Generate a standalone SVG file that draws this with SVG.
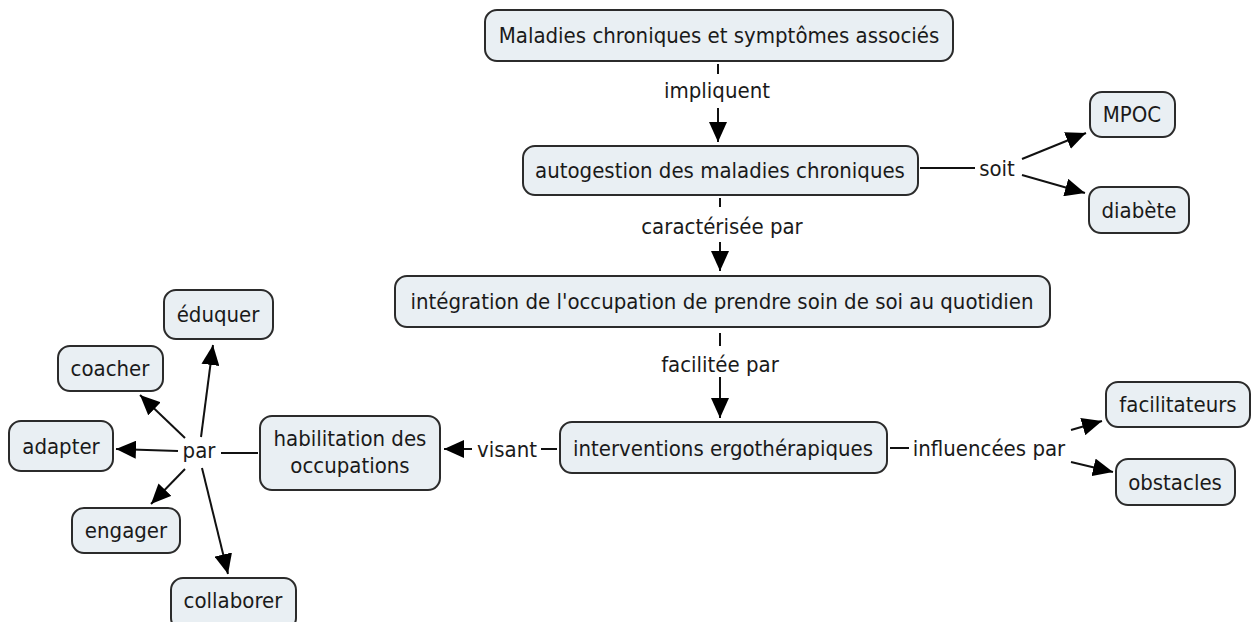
<svg xmlns="http://www.w3.org/2000/svg" width="1253" height="622" viewBox="0 0 1253 622">
<defs>
<style>
.n rect{fill:#e9eff3;stroke:#2b2b2b;stroke-width:2}
text{font-family:"DejaVu Sans Condensed","DejaVu Sans",Verdana,sans-serif;font-stretch:condensed;font-size:22px;fill:#1a1a1a;text-anchor:middle;dominant-baseline:central}
.c line{stroke:#111;stroke-width:2}
.c line.a{marker-end:url(#ah)}
</style>
<marker id="ah" markerUnits="userSpaceOnUse" markerWidth="20" markerHeight="18" refX="20" refY="9" orient="auto" viewBox="0 0 20 18">
<path d="M0,0 L20,9 L0,18 z" fill="#000"/>
</marker>
</defs>
<rect width="1253" height="622" fill="#fff"/>
<g id="connectors" class="c">
<line x1="718" y1="64" x2="718" y2="74"/>
<line class="a" x1="718" y1="108" x2="718" y2="142"/>
<line x1="720" y1="198" x2="720" y2="207"/>
<line class="a" x1="720" y1="242" x2="720" y2="271"/>
<line x1="720" y1="333" x2="720" y2="346"/>
<line class="a" x1="720" y1="377" x2="720" y2="418"/>
<line x1="920" y1="168" x2="975" y2="168"/>
<line class="a" x1="1022" y1="159" x2="1086" y2="133"/>
<line class="a" x1="1022" y1="175" x2="1085" y2="193"/>
<line x1="541" y1="449" x2="557" y2="449"/>
<line class="a" x1="472" y1="449" x2="444" y2="449"/>
<line x1="890" y1="448" x2="909" y2="448"/>
<line class="a" x1="1071" y1="430" x2="1102" y2="421"/>
<line class="a" x1="1071" y1="462" x2="1113" y2="472"/>
<line x1="221" y1="453" x2="258" y2="453"/>
<line class="a" x1="178" y1="451" x2="116" y2="449"/>
<line class="a" x1="185" y1="438" x2="140" y2="395"/>
<line class="a" x1="201" y1="437" x2="213" y2="345"/>
<line class="a" x1="185" y1="469" x2="151" y2="504"/>
<line class="a" x1="202" y1="468" x2="228" y2="574"/>
</g>
<g id="n-maladies" class="n"><rect x="485" y="10" width="468" height="51" rx="12"/><text x="719" y="35">Maladies chroniques et symptômes associés</text></g>
<g id="n-autogestion" class="n"><rect x="523" y="146" width="395" height="49" rx="12"/><text x="720" y="170">autogestion des maladies chroniques</text></g>
<g id="n-integration" class="n"><rect x="395" y="276" width="655" height="51" rx="12"/><text x="722" y="301">intégration de l'occupation de prendre soin de soi au quotidien</text></g>
<g id="n-interventions" class="n"><rect x="560" y="422" width="327" height="51" rx="12"/><text x="723" y="448">interventions ergothérapiques</text></g>
<g id="n-habilitation" class="n"><rect x="260" y="416" width="180" height="74" rx="12"/><text x="350" y="438">habilitation des</text><text x="350" y="465">occupations</text></g>
<g id="n-eduquer" class="n"><rect x="164" y="290" width="109" height="49" rx="12"/><text x="218" y="314">éduquer</text></g>
<g id="n-coacher" class="n"><rect x="58" y="346" width="105" height="45" rx="12"/><text x="110" y="368">coacher</text></g>
<g id="n-adapter" class="n"><rect x="9" y="421" width="104" height="50" rx="12"/><text x="61" y="446">adapter</text></g>
<g id="n-engager" class="n"><rect x="72" y="508" width="108" height="45" rx="12"/><text x="126" y="530">engager</text></g>
<g id="n-collaborer" class="n"><rect x="171" y="578" width="125" height="52" rx="12"/><text x="233" y="600">collaborer</text></g>
<g id="n-mpoc" class="n"><rect x="1090" y="92" width="85" height="45" rx="12"/><text x="1132" y="114">MPOC</text></g>
<g id="n-diabete" class="n"><rect x="1089" y="187" width="100" height="46" rx="12"/><text x="1139" y="210">diabète</text></g>
<g id="n-facilitateurs" class="n"><rect x="1106" y="382" width="144" height="45" rx="12"/><text x="1178" y="404">facilitateurs</text></g>
<g id="n-obstacles" class="n"><rect x="1116" y="459" width="119" height="46" rx="12"/><text x="1175" y="482">obstacles</text></g>
<g id="labels">
<text x="717" y="90">impliquent</text>
<text x="722" y="226">caractérisée par</text>
<text x="720" y="364">facilitée par</text>
<text x="997" y="168">soit</text>
<text x="507" y="449">visant</text>
<text x="989" y="448">influencées par</text>
<text x="199" y="450">par</text>
</g>
</svg>
